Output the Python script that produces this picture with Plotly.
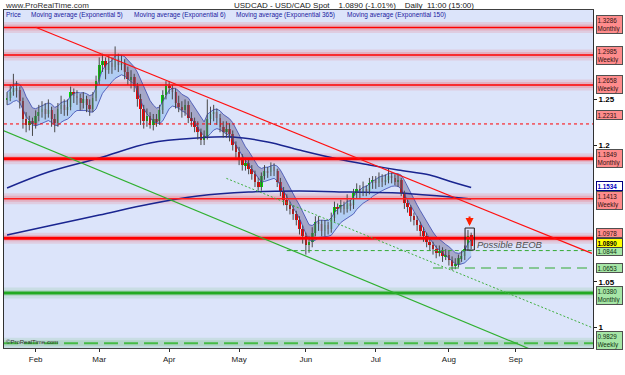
import numpy as np
import pandas as pd
import plotly.graph_objects as go

# ---------------- data ----------------
dates = pd.bdate_range("2009-01-20", "2009-08-12")

open_ = [1.250, 1.252, 1.258, 1.262, 1.260, 1.248, 1.228, 1.222, 1.226,
         1.224, 1.232, 1.236, 1.240, 1.234,
         1.238, 1.228, 1.224, 1.240, 1.244,
         1.238, 1.242, 1.258, 1.254, 1.252,
         1.246, 1.250, 1.244, 1.240, 1.252,
         1.270, 1.288, 1.292, 1.282, 1.290,
         1.286, 1.294, 1.288, 1.290, 1.280,
         1.272, 1.274, 1.265, 1.250, 1.240,
         1.226, 1.232, 1.222, 1.228, 1.226,
         1.238, 1.255, 1.265, 1.262, 1.258,
         1.246, 1.242, 1.238, 1.244, 1.230,
         1.226, 1.220, 1.214, 1.206, 1.210,
         1.228, 1.234, 1.236, 1.230, 1.220,
         1.214, 1.218, 1.212, 1.200, 1.192,
         1.184, 1.178, 1.180, 1.174, 1.168,
         1.160, 1.154, 1.166, 1.172, 1.170,
         1.176, 1.172, 1.160, 1.150, 1.140,
         1.134, 1.130, 1.124, 1.118, 1.108,
         1.100, 1.090, 1.094, 1.104, 1.116,
         1.114, 1.106, 1.112, 1.108, 1.120,
         1.132, 1.130, 1.134, 1.130, 1.136,
         1.134, 1.148, 1.152, 1.148, 1.152,
         1.150, 1.158, 1.162, 1.158, 1.164,
         1.160, 1.162, 1.166, 1.164, 1.160,
         1.162, 1.148, 1.136, 1.132, 1.122,
         1.118, 1.112, 1.106, 1.100, 1.094,
         1.090, 1.086, 1.082, 1.084, 1.078,
         1.080, 1.074, 1.068, 1.070, 1.076,
         1.078, 1.087, 1.101]

high = [1.258, 1.266, 1.278, 1.270, 1.264, 1.252, 1.236, 1.232, 1.230,
        1.238, 1.244, 1.248, 1.246, 1.250,
        1.242, 1.234, 1.246, 1.254, 1.250,
        1.250, 1.264, 1.262, 1.260, 1.256,
        1.258, 1.254, 1.250, 1.258, 1.276,
        1.296, 1.300, 1.296, 1.298, 1.296,
        1.308, 1.300, 1.298, 1.294, 1.286,
        1.282, 1.278, 1.268, 1.256, 1.244,
        1.240, 1.236, 1.234, 1.234, 1.244,
        1.260, 1.270, 1.270, 1.266, 1.262,
        1.254, 1.248, 1.250, 1.248, 1.236,
        1.230, 1.226, 1.218, 1.216, 1.250,
        1.242, 1.244, 1.240, 1.234, 1.226,
        1.226, 1.224, 1.216, 1.204, 1.198,
        1.190, 1.186, 1.184, 1.178, 1.172,
        1.164, 1.170, 1.178, 1.176, 1.181,
        1.180, 1.174, 1.164, 1.154, 1.146,
        1.138, 1.134, 1.128, 1.122, 1.112,
        1.104, 1.100, 1.110, 1.122, 1.122,
        1.118, 1.118, 1.116, 1.126, 1.138,
        1.136, 1.140, 1.138, 1.146, 1.140,
        1.152, 1.158, 1.156, 1.160, 1.156,
        1.164, 1.166, 1.166, 1.170, 1.168,
        1.168, 1.174, 1.170, 1.168, 1.168,
        1.164, 1.150, 1.140, 1.134, 1.126,
        1.122, 1.116, 1.110, 1.104, 1.098,
        1.094, 1.090, 1.090, 1.088, 1.086,
        1.084, 1.078, 1.076, 1.080, 1.084,
        1.090, 1.107, 1.104]

low = [1.244, 1.248, 1.254, 1.252, 1.240, 1.218, 1.214, 1.216, 1.210,
       1.218, 1.226, 1.230, 1.228, 1.230,
       1.220, 1.214, 1.220, 1.234, 1.232,
       1.232, 1.238, 1.246, 1.244, 1.238,
       1.240, 1.236, 1.232, 1.236, 1.248,
       1.266, 1.280, 1.272, 1.278, 1.278,
       1.282, 1.280, 1.282, 1.272, 1.266,
       1.262, 1.258, 1.242, 1.222, 1.218,
       1.220, 1.218, 1.216, 1.220, 1.222,
       1.234, 1.250, 1.256, 1.250, 1.240,
       1.236, 1.230, 1.232, 1.224, 1.220,
       1.214, 1.206, 1.200, 1.200, 1.206,
       1.222, 1.226, 1.222, 1.214, 1.208,
       1.208, 1.204, 1.194, 1.186, 1.178,
       1.172, 1.172, 1.168, 1.162, 1.154,
       1.150, 1.150, 1.162, 1.164, 1.166,
       1.166, 1.154, 1.144, 1.134, 1.128,
       1.124, 1.118, 1.112, 1.102, 1.092,
       1.080, 1.082, 1.088, 1.100, 1.106,
       1.100, 1.100, 1.102, 1.104, 1.116,
       1.124, 1.126, 1.124, 1.126, 1.128,
       1.130, 1.142, 1.142, 1.144, 1.144,
       1.146, 1.152, 1.152, 1.154, 1.154,
       1.156, 1.158, 1.158, 1.156, 1.154,
       1.144, 1.130, 1.126, 1.116, 1.112,
       1.106, 1.100, 1.094, 1.088, 1.084,
       1.080, 1.076, 1.078, 1.072, 1.074,
       1.068, 1.063, 1.064, 1.066, 1.072,
       1.074, 1.084, 1.086]

close = [1.252, 1.258, 1.262, 1.260, 1.248, 1.228, 1.222, 1.226, 1.224,
         1.232, 1.236, 1.240, 1.234, 1.238,
         1.228, 1.224, 1.240, 1.244, 1.238,
         1.242, 1.258, 1.254, 1.252, 1.246,
         1.250, 1.244, 1.240, 1.252, 1.270,
         1.288, 1.292, 1.282, 1.290, 1.286,
         1.294, 1.288, 1.290, 1.280, 1.272,
         1.274, 1.265, 1.250, 1.240, 1.226,
         1.232, 1.222, 1.228, 1.226, 1.238,
         1.255, 1.265, 1.262, 1.258, 1.246,
         1.242, 1.238, 1.244, 1.230, 1.226,
         1.220, 1.214, 1.206, 1.210, 1.228,
         1.234, 1.236, 1.230, 1.220, 1.214,
         1.218, 1.212, 1.200, 1.192, 1.184,
         1.178, 1.180, 1.174, 1.168, 1.160,
         1.154, 1.166, 1.172, 1.170, 1.176,
         1.172, 1.160, 1.150, 1.140, 1.134,
         1.130, 1.124, 1.118, 1.108, 1.100,
         1.090, 1.094, 1.104, 1.116, 1.114,
         1.106, 1.112, 1.108, 1.120, 1.132,
         1.130, 1.134, 1.130, 1.136, 1.134,
         1.148, 1.152, 1.148, 1.152, 1.150,
         1.158, 1.162, 1.158, 1.164, 1.160,
         1.162, 1.166, 1.164, 1.160, 1.162,
         1.148, 1.136, 1.132, 1.122, 1.118,
         1.112, 1.106, 1.100, 1.094, 1.090,
         1.086, 1.082, 1.084, 1.078, 1.080,
         1.074, 1.068, 1.070, 1.076, 1.078,
         1.086, 1.100, 1.089]

# long moving averages (sample points)
ema150_dates = ["2009-01-20", "2009-02-06", "2009-03-02", "2009-03-24", "2009-04-14",
                "2009-04-29", "2009-05-14", "2009-05-28", "2009-06-15", "2009-06-29",
                "2009-07-10", "2009-07-24", "2009-08-03", "2009-08-12"]
ema150_vals = [1.1529, 1.1704, 1.1858, 1.2022, 1.2077, 1.2088, 1.2033, 1.1945,
               1.1847, 1.1781, 1.1726, 1.1671, 1.1606, 1.1534]
ema365_dates = ["2009-01-20", "2009-02-06", "2009-03-02", "2009-03-24", "2009-04-14",
                "2009-05-06", "2009-05-28", "2009-06-19", "2009-07-10", "2009-07-29",
                "2009-08-12"]
ema365_vals = [1.1014, 1.1113, 1.1233, 1.1354, 1.1441, 1.1485, 1.1496, 1.1485,
               1.1474, 1.1441, 1.1409]

# horizontal levels
level_values = [1.3286, 1.2985, 1.2658, 1.2231, 1.1849, 1.1413, 1.0978, 1.0844, 1.0653, 1.0380, 0.9829]
level_starts = [None, None, None, None, None, None, None, "2009-05-22", "2009-07-27", None, None]

# right-hand price labels
label_values = [1.3286, 1.2985, 1.2658, 1.2231, 1.1849, 1.1534, 1.1413, 1.0978, 1.0844, 1.0890, 1.0653, 1.0380, 0.9829]
label_tags = ["Monthly", "Weekly", "Weekly", "", "Monthly", "", "Weekly", "", "", "", "", "Monthly", "Weekly"]

# trend lines (date, price)
red_trend = [("2009-02-02", 1.3290), ("2009-10-05", 1.0813)]
green_trend = [("2009-01-19", 1.2157), ("2009-09-10", 0.9729)]
green_dotted = [("2009-04-27", 1.1635), ("2009-10-05", 1.0001)]

title_text = "USDCAD - USD/CAD Spot&nbsp;&nbsp;&nbsp; 1.0890 (-1.01%)&nbsp;&nbsp;&nbsp; Daily&nbsp; 11:00 (15:00)"
legend_items = ["Price", "Moving average (Exponential 5)", "Moving average (Exponential 6)",
                "Moving average (Exponential 365)", "Moving average (Exponential 150)"]
month_ticks = ["2009-02-02", "2009-03-02", "2009-04-01", "2009-05-01", "2009-06-01",
               "2009-07-01", "2009-08-03", "2009-09-01"]
month_labels = ["Feb", "Mar", "Apr", "May", "Jun", "Jul", "Aug", "Sep"]
price_ticks = [1.0, 1.05, 1.2, 1.25]
price_tick_text = ["1", "1.05", "1.2", "1.25"]

# ---------------- derived ----------------
def ema(vals, period):
    a = 2.0 / (period + 1)
    out = [vals[0]]
    for v in vals[1:]:
        out.append(a * v + (1 - a) * out[-1])
    return np.array(out)

ema_hi = ema(high, 5)
ema_lo = ema(low, 6)
mid = (ema_hi + ema_lo) / 2
n = len(close)
up = np.diff(mid) >= 0
up = np.concatenate([[up[0]], up])

fig = go.Figure()

# band fill segments
runs = []
s = 0
for i in range(1, n + 1):
    if i == n or up[i] != up[s]:
        runs.append((s, i - 1, up[s]))
        s = i
for (s, e, u) in runs:
    e2 = min(e + 1, n - 1)
    xs = list(dates[s:e2 + 1]) + list(dates[s:e2 + 1])[::-1]
    ys = list(ema_hi[s:e2 + 1]) + list(ema_lo[s:e2 + 1])[::-1]
    fig.add_trace(go.Scatter(x=xs, y=ys, fill="toself", mode="lines", line=dict(width=0),
                             fillcolor="rgba(170,202,242,0.85)" if u else "rgba(120,118,160,0.55)",
                             hoverinfo="skip", showlegend=False))

for arr in (ema_hi, ema_lo):
    fig.add_trace(go.Scatter(x=dates, y=arr, mode="lines", line=dict(color="#3848b0", width=0.8),
                             hoverinfo="skip", showlegend=False))

fig.add_trace(go.Scatter(x=pd.to_datetime(ema150_dates), y=ema150_vals, mode="lines",
                         line=dict(color="#1a2590", width=1.5, shape="spline"), showlegend=False))
fig.add_trace(go.Scatter(x=pd.to_datetime(ema365_dates), y=ema365_vals, mode="lines",
                         line=dict(color="#1a2590", width=1.5, shape="spline"), showlegend=False))

# candles: wicks as lines, bodies as bars
wx, wy = [], []
for d, h, l in zip(dates, high, low):
    wx += [d, d, None]
    wy += [l, h, None]
fig.add_trace(go.Scatter(x=wx, y=wy, mode="lines", line=dict(color="#484848", width=1),
                         hoverinfo="skip", showlegend=False))
o_arr = np.array(open_)
c_arr = np.array(close)
body_base = np.minimum(o_arr, c_arr)
body_h = np.maximum(np.abs(c_arr - o_arr), 0.0012)
body_col = ["#00dd00" if c >= o else "#ff0000" for o, c in zip(open_, close)]
fig.add_trace(go.Bar(x=dates, y=body_h, base=body_base, width=0.85 * 86400000,
                     marker=dict(color=body_col, line=dict(width=0)),
                     hoverinfo="skip", showlegend=False))

# ---------------- shapes ----------------
shapes = []
x_end = "2009-10-10"
level_style = [
    ("#ff0000", 1.5, "solid", True),
    ("#ff0000", 1.5, "solid", True),
    ("#ff0000", 1.5, "solid", True),
    ("#ff0000", 1.0, "dot", False),
    ("#ff0000", 3.0, "solid", True),
    ("#ff2020", 1.5, "solid", True),
    ("#ff0000", 3.0, "solid", True),
    ("#33aa33", 1.0, "4px,3px", False),
    ("#33aa33", 1.2, "10px,6px", False),
    ("#22aa22", 3.0, "solid", True),
    ("#44bb44", 2.0, "14px,6px", True),
]
for val, start, (col, w, dash, glow) in zip(level_values, level_starts, level_style):
    glow_rgb = "255,0,0" if col.startswith("#ff") else "40,170,40"
    if start is None:
        xr, x0, x1 = "paper", 0, 1
    else:
        xr, x0, x1 = "x", start, x_end
    if glow:
        shapes.append(dict(type="line", xref=xr, yref="y", x0=x0, x1=x1, y0=val, y1=val,
                           line=dict(color=f"rgba({glow_rgb},0.10)", width=11), layer="below"))
        shapes.append(dict(type="line", xref=xr, yref="y", x0=x0, x1=x1, y0=val, y1=val,
                           line=dict(color=f"rgba({glow_rgb},0.14)", width=6), layer="below"))
    shapes.append(dict(type="line", xref=xr, yref="y", x0=x0, x1=x1, y0=val, y1=val,
                       line=dict(color=col, width=w, dash=dash), layer="above"))

for (p0, p1), col, w, dash in [(red_trend, "#ff1010", 1.2, "solid"),
                               (green_trend, "#30b030", 1.2, "solid"),
                               (green_dotted, "#40b040", 1.0, "2px,2px")]:
    shapes.append(dict(type="line", xref="x", yref="y", x0=p0[0], y0=p0[1], x1=p1[0], y1=p1[1],
                       line=dict(color=col, width=w, dash=dash), layer="above"))

shapes.append(dict(type="rect", xref="x", yref="y", x0="2009-08-10 02:00", x1="2009-08-13 00:00",
                   y0=1.0850, y1=1.1091, line=dict(color="#202020", width=1), layer="above"))

# ---------------- annotations ----------------
ann = []
label_kind = ["r", "r", "r", "r", "r", "b", "r", "r", "g", "y", "g", "g", "g"]
label_shift = [3, 0, 0, 9, 0, 2, -2, 5, 0, 3, 0, -3, 3]
kind_style = {
    "r": dict(bg="#ff8c8c", fc="#301010", bc="#505050", bold=False),
    "g": dict(bg="#a6e6a6", fc="#103010", bc="#505050", bold=False),
    "b": dict(bg="#ffffff", fc="#0000c0", bc="#000080", bold=True),
    "y": dict(bg="#ffff00", fc="#000000", bc="#404040", bold=True),
}
for val, tag, k, sh in zip(label_values, label_tags, label_kind, label_shift):
    st = kind_style[k]
    t = f"{val:.4f}"
    if st["bold"]:
        t = f"<b>{t}</b>"
    if tag:
        t = t + "<br>" + tag
    ann.append(dict(xref="paper", yref="y", x=1, y=val, xanchor="left", yanchor="middle",
                    xshift=3, yshift=sh, text=t, showarrow=False, align="left", width=24,
                    font=dict(family="Liberation Sans, Arial", size=6.3, color=st["fc"]),
                    bgcolor=st["bg"], bordercolor=st["bc"], borderwidth=1, borderpad=0.5))

def px_to_paper_x(px):
    return (px - 4) / 589.0

def px_to_paper_y(py):
    return (348 - py) / 338.0

ann.append(dict(xref="paper", yref="paper", x=px_to_paper_x(3), y=px_to_paper_y(5),
                xanchor="left", yanchor="middle", showarrow=False, text="www.ProRealTime.com",
                font=dict(family="Liberation Sans, Arial", size=8, color="#303030")))
ann.append(dict(xref="paper", yref="paper", x=px_to_paper_x(354), y=px_to_paper_y(5),
                xanchor="center", yanchor="middle", showarrow=False, text=title_text,
                font=dict(family="Liberation Sans, Arial", size=8, color="#202020")))
leg_px = [4, 29, 132, 234, 345]
for txt, p in zip(legend_items, leg_px):
    ann.append(dict(xref="paper", yref="paper", x=px_to_paper_x(p), y=px_to_paper_y(15),
                    xanchor="left", yanchor="middle", showarrow=False, text=txt,
                    font=dict(family="Liberation Sans, Arial", size=6.5, color="#1a1aa0")))
ann.append(dict(xref="paper", yref="paper", x=px_to_paper_x(4), y=px_to_paper_y(342),
                xanchor="left", yanchor="middle", showarrow=False, text="©ProRealTime.com",
                font=dict(family="Liberation Sans, Arial", size=6, color="#303030")))
ann.append(dict(xref="x", yref="y", x="2009-08-13 00:00", y=1.0916, xanchor="left",
                yanchor="middle", xshift=1, showarrow=False, text="<i>Possible BEOB</i>",
                font=dict(family="Liberation Sans, Arial", size=9.5, color="#505050")))
ann.append(dict(xref="x", yref="y", x="2009-08-11 12:00", y=1.1113, ax=0, ay=-11,
                showarrow=True, arrowhead=2, arrowsize=0.8, arrowwidth=2, arrowcolor="#ff2000",
                text=""))

fig.update_layout(
    width=625, height=375,
    margin=dict(l=4, r=32, t=10, b=27),
    paper_bgcolor="#ffffff", plot_bgcolor="#dce4fa",
    shapes=shapes, annotations=ann, showlegend=False, bargap=0,
    xaxis=dict(type="date", rangebreaks=[dict(bounds=["sat", "mon"])],
               range=["2009-01-19 01:00", "2009-10-05 08:00"],
               rangeslider=dict(visible=False), showgrid=False, zeroline=False,
               tickvals=month_ticks, ticktext=month_labels, ticks="outside", ticklen=3,
               tickcolor="#303030", showline=True, linecolor="#404040", mirror=True,
               tickfont=dict(family="Liberation Sans, Arial", size=8, color="#202020")),
    yaxis=dict(side="right", range=[0.9777, 1.3479], showgrid=False, zeroline=False,
               tickvals=price_ticks, ticktext=price_tick_text, ticks="outside", ticklen=3,
               tickcolor="#202020", showline=True, linecolor="#303030", mirror=True,
               tickfont=dict(family="Liberation Sans, Arial", size=8, color="#000000", weight="bold")),
)

fig.write_html("out.html")
